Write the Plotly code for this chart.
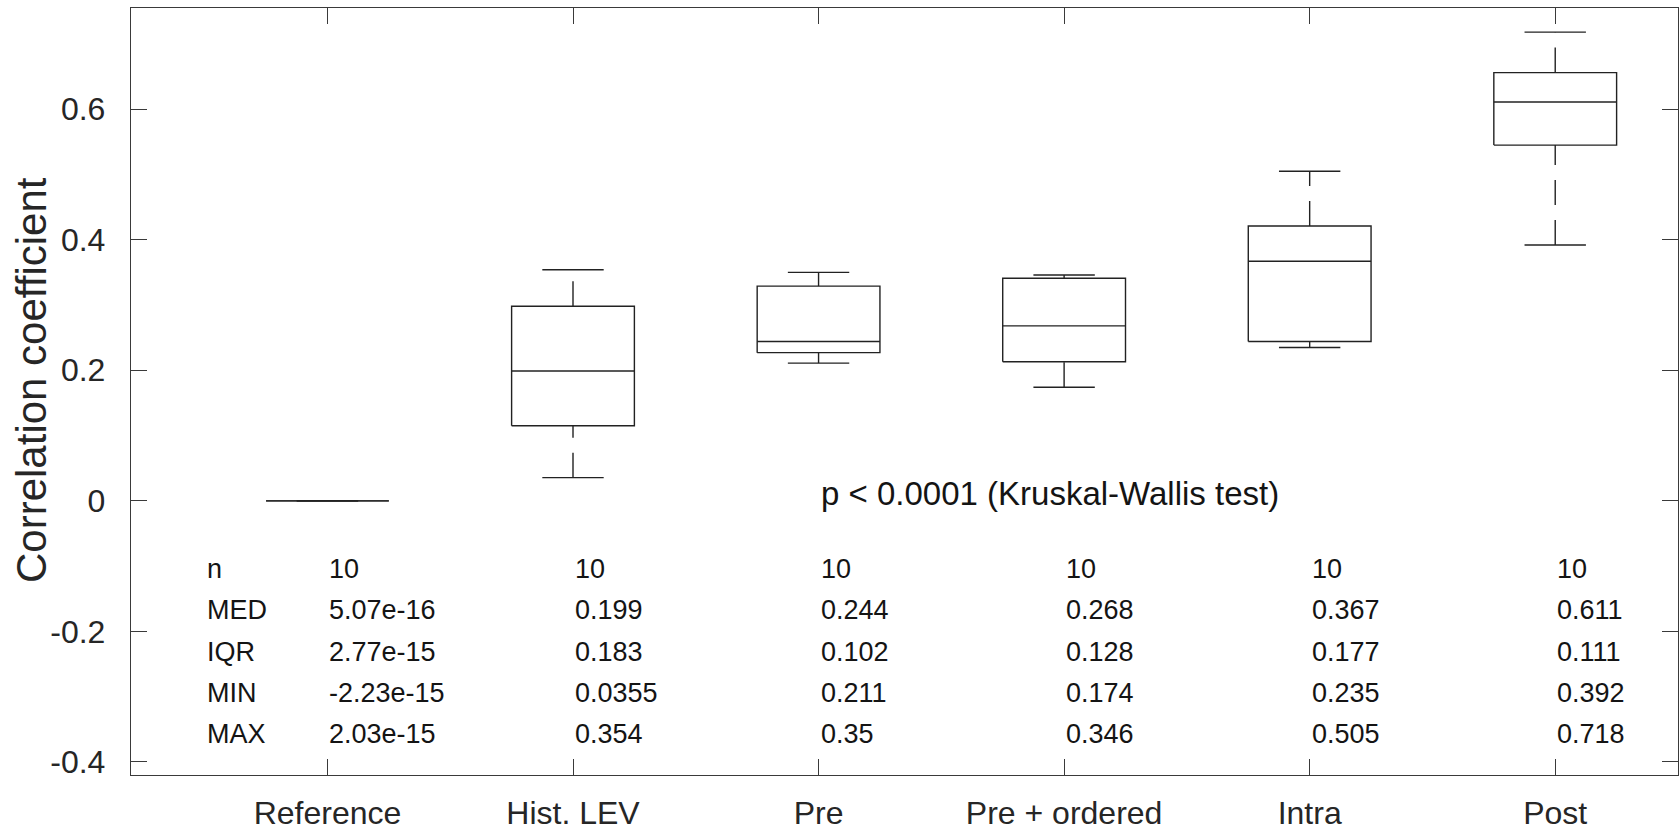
import plotly.graph_objects as go

# ---- data ----
categories = ["Reference", "Hist. LEV", "Pre", "Pre + ordered", "Intra", "Post"]
n_vals = [10, 10, 10, 10, 10, 10]
medians = [5.07e-16, 0.199, 0.244, 0.268, 0.367, 0.611]
iqrs = [2.77e-15, 0.183, 0.102, 0.128, 0.177, 0.111]
q1s = [-1.2e-15, 0.115, 0.227, 0.213, 0.244, 0.545]
q3s = [1.57e-15, 0.298, 0.329, 0.341, 0.421, 0.656]
mins = [-2.23e-15, 0.0355, 0.211, 0.174, 0.235, 0.392]
maxs = [2.03e-15, 0.354, 0.35, 0.346, 0.505, 0.718]
row_labels = ["n", "MED", "IQR", "MIN", "MAX"]
ytick_vals = [-0.4, -0.2, 0, 0.2, 0.4, 0.6]
ytick_text = ["-0.4", "-0.2", "0", "0.2", "0.4", "0.6"]
p_text = "p < 0.0001 (Kruskal-Wallis test)"
y_title = "Correlation coefficient"

# ---- style ----
LINE = "#222222"
LW = 1.4
FONT = "Liberation Sans, Arial, Helvetica, sans-serif"
BOX_HALF = 0.25
CAP_HALF = 0.125
DASH = "25px,15px"

fig = go.Figure()
positions = list(range(1, len(categories) + 1))

for x, q1, q3, med, lo, hi in zip(positions, q1s, q3s, medians, mins, maxs):
    # box outline
    fig.add_trace(go.Scatter(
        x=[x - BOX_HALF, x + BOX_HALF, x + BOX_HALF, x - BOX_HALF, x - BOX_HALF],
        y=[q1, q1, q3, q3, q1], mode="lines",
        line=dict(color=LINE, width=LW), hoverinfo="skip"))
    # median
    fig.add_trace(go.Scatter(
        x=[x - BOX_HALF, x + BOX_HALF], y=[med, med], mode="lines",
        line=dict(color=LINE, width=LW), hoverinfo="skip"))
    # caps
    fig.add_trace(go.Scatter(
        x=[x - CAP_HALF, x + CAP_HALF, None, x - CAP_HALF, x + CAP_HALF],
        y=[lo, lo, None, hi, hi], mode="lines",
        line=dict(color=LINE, width=LW), hoverinfo="skip"))
    # whiskers (dashed, drawn from lower to higher value)
    fig.add_trace(go.Scatter(
        x=[x, x], y=[lo, q1], mode="lines",
        line=dict(color=LINE, width=LW, dash=DASH), hoverinfo="skip"))
    fig.add_trace(go.Scatter(
        x=[x, x], y=[q3, hi], mode="lines",
        line=dict(color=LINE, width=LW, dash=DASH), hoverinfo="skip"))

# ---- statistics table ----
row_y = [-0.104, -0.1674, -0.2308, -0.2942, -0.3576]
stats_rows = [n_vals, medians, iqrs, mins, maxs]
TABLE_SIZE = 27
TXT = "#141414"
for label, yv in zip(row_labels, row_y):
    fig.add_annotation(x=0.5, y=yv, text=label, showarrow=False,
                       xanchor="left", yanchor="middle",
                       font=dict(family=FONT, size=TABLE_SIZE, color=TXT))
for vals, yv in zip(stats_rows, row_y):
    for x, v in zip(positions, vals):
        txt = str(v) if isinstance(v, int) else format(v, ".3g")
        fig.add_annotation(x=x, y=yv, text=txt, showarrow=False,
                           xanchor="left", yanchor="middle",
                           font=dict(family=FONT, size=TABLE_SIZE, color=TXT))

fig.add_annotation(x=3, y=0.012, text=p_text, showarrow=False,
                   xanchor="left", yanchor="middle",
                   font=dict(family=FONT, size=33, color=TXT))

# y-axis title
fig.add_annotation(xref="paper", yref="paper", x=-0.064, y=0.515,
                   text=y_title, textangle=-90, showarrow=False,
                   xanchor="center", yanchor="middle",
                   font=dict(family=FONT, size=42, color="#262626"))

axis_common = dict(showline=True, linecolor="#3a3a3a", linewidth=1.4,
                   mirror="ticks", ticks="inside", ticklen=16, tickwidth=1.4,
                   tickcolor="#3a3a3a", showgrid=False, zeroline=False,
                   automargin=False,
                   tickfont=dict(family=FONT, size=32, color="#262626"))

fig.update_layout(
    width=1680, height=831,
    margin=dict(l=131, r=2, t=8, b=56),
    plot_bgcolor="white", paper_bgcolor="white",
    showlegend=False,
    xaxis=dict(range=[0.2, 6.5], tickvals=positions, ticktext=categories,
               ticklabelstandoff=9, **axis_common),
    yaxis=dict(range=[-0.42, 0.755], tickvals=ytick_vals, ticktext=ytick_text,
               ticklabelstandoff=18, **axis_common),
)

fig.write_html("out.html", config={"displayModeBar": False},
               post_script="document.body.style.margin='0';")
